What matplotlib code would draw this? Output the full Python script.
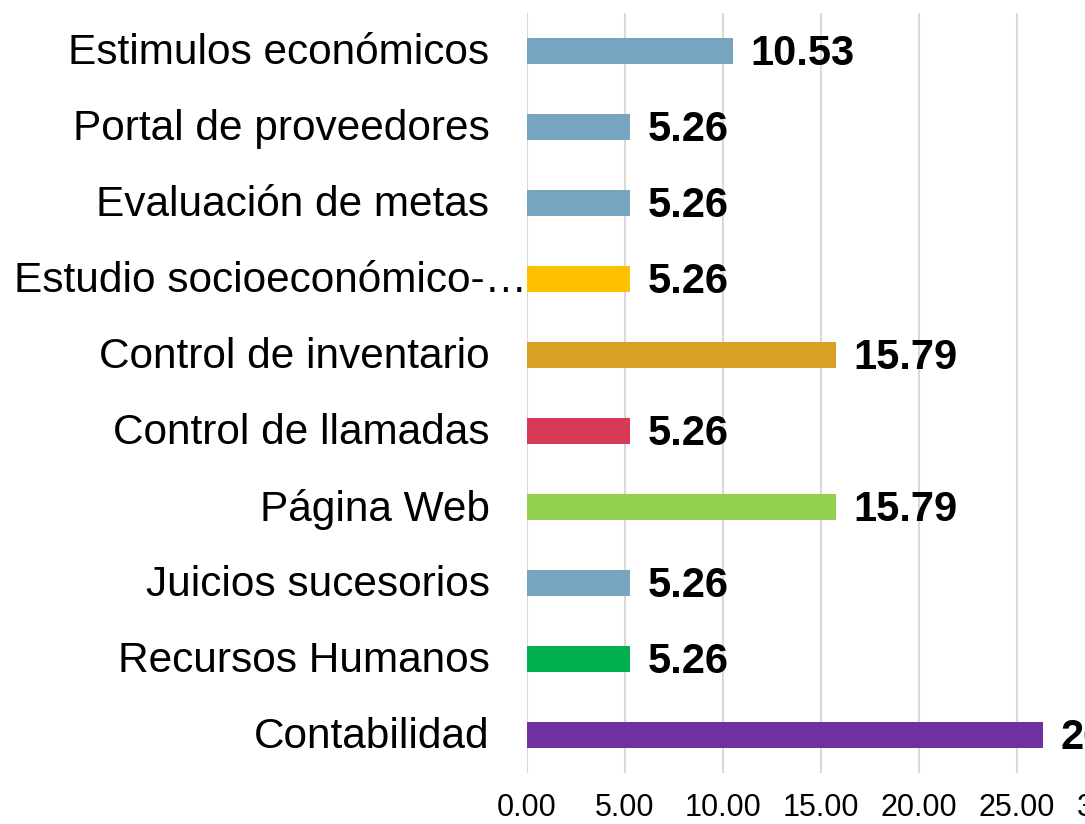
import matplotlib
matplotlib.use("Agg")
import matplotlib.pyplot as plt

categories = ["Estimulos económicos", "Portal de proveedores", "Evaluación de metas",
              "Estudio socioeconómico-…", "Control de inventario", "Control de llamadas",
              "Página Web", "Juicios sucesorios", "Recursos Humanos", "Contabilidad"]
values = [10.53, 5.26, 5.26, 5.26, 15.79, 5.26, 15.79, 5.26, 5.26, 26.32]
colors = ["#77A4BE", "#77A4BE", "#77A4BE", "#FFC000", "#D6A124", "#D63A57",
          "#92D050", "#77A4BE", "#00B050", "#7030A0"]
xticks = [0, 5, 10, 15, 20, 25, 30]
xtick_labels = ["0.00", "5.00", "10.00", "15.00", "20.00", "25.00", "30.00"]

plt.rcParams['font.family'] = ['Liberation Sans', 'DejaVu Sans']

fig = plt.figure(figsize=(10.85, 8.24), dpi=100)
ax = fig.add_axes([527/1085, 51/824, 588/1085, 760/824])

n = len(categories)
ypos = list(range(n))[::-1]
ax.barh(ypos, values, height=0.355, color=colors, zorder=3)
ax.set_ylim(-0.5, n - 0.5)
ax.set_xlim(0, 30)

ax.set_xticks(xticks)
ax.set_xticklabels(xtick_labels, fontsize=22)
ax.tick_params(axis='x', length=0, pad=14.5)
ax.set_yticks([])
ax.grid(axis='x', color='#D9D9D9', linewidth=1.5, zorder=0)
for s in ax.spines.values():
    s.set_visible(False)

for y, v, c in zip(ypos, values, categories):
    ax.annotate(f"{v:.2f}", xy=(v, y), xytext=(12.5, -2.5), textcoords='offset points',
                va='center', ha='left', fontsize=30, fontweight='bold',
                annotation_clip=False)
    off = 0 if c.endswith("…") else -27
    ax.annotate(c, xy=(0, y), xycoords=('axes fraction', 'data'), xytext=(off, -1.5),
                textcoords='offset points', va='center', ha='right', fontsize=30.5,
                annotation_clip=False)

fig.savefig("out.png", dpi=100)
